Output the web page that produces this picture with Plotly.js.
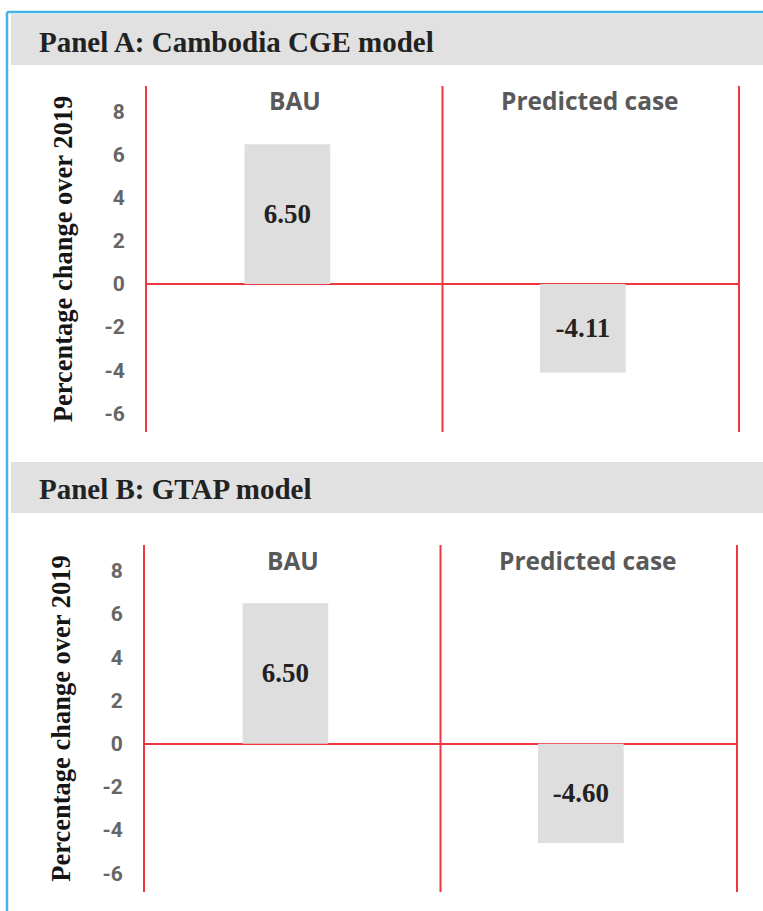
<!DOCTYPE html>
<html>
<head>
<meta charset="utf-8">
<script src="https://cdn.plot.ly/plotly-3.0.1.min.js"></script>
<style>
  html, body { margin: 0; padding: 0; background: #ffffff; }
  #chart { width: 763px; height: 911px; }
</style>
</head>
<body>
<div id="chart"></div>
<script>
// ---- data ----
const categories = ['BAU', 'Predicted case'];
const panelAValues = [6.50, -4.11];
const panelBValues = [6.50, -4.60];
const panelTitles = ['Panel A: Cambodia CGE model', 'Panel B: GTAP model'];
const yAxisTitle = 'Percentage change over 2019';
const yTickVals = [-6, -4, -2, 0, 2, 4, 6, 8];

// ---- styling ----
const W = 763, H = 911;
const RED = '#f0363e';
const BAR = '#dedede';
const BAND = '#e1e1e1';
const BLUE = '#47b2e6';
const serif = 'Liberation Serif, Times New Roman, serif';
const sans = 'Open Sans, Roboto, Arial, sans-serif';
const tickSans = 'Roboto, Open Sans, Arial, sans-serif';

function px(x) { return x / W; }
function py(y) { return 1 - y / H; }

function barTrace(values, xa, ya) {
  return {
    type: 'bar',
    x: categories,
    y: values,
    xaxis: xa,
    yaxis: ya,
    width: 0.29,
    offset: -0.17,
    marker: { color: BAR, line: { width: 0 } },
    text: values.map(v => v.toFixed(2)),
    textposition: 'inside',
    insidetextanchor: 'middle',
    textangle: 0,
    constraintext: 'none',
    textfont: { family: serif, size: 27, color: '#222222', weight: 'bold' },
    hoverinfo: 'skip'
  };
}

function xAxis(domain, anchor) {
  return {
    domain: domain,
    anchor: anchor,
    type: 'category',
    categoryorder: 'array',
    categoryarray: categories,
    range: [-0.5, 1.5],
    showticklabels: false,
    showline: false,
    showgrid: false,
    zeroline: false,
    ticks: '',
    fixedrange: true
  };
}

function yAxis(domain, anchor) {
  return {
    domain: domain,
    anchor: anchor,
    range: [-6.87, 9.2],
    tickvals: yTickVals,
    ticktext: yTickVals.map(String),
    showgrid: false,
    zeroline: true,
    zerolinecolor: RED,
    zerolinewidth: 2,
    showline: true,
    linecolor: RED,
    linewidth: 2,
    mirror: true,
    ticks: '',
    ticklabelstandoff: 16,
    tickfont: { family: tickSans, size: 21, color: '#666666', weight: 'bold' },
    title: {
      text: yAxisTitle,
      font: { family: serif, size: 26.5, color: '#151515', weight: 'bold' },
      standoff: 24
    },
    automargin: false,
    fixedrange: true
  };
}

const data = [
  barTrace(panelAValues, 'x', 'y'),
  barTrace(panelBValues, 'x2', 'y2')
];

const shapes = [
  // blue frame
  { type: 'line', xref: 'paper', yref: 'paper', x0: px(7), x1: px(763), y0: py(12), y1: py(12), line: { color: BLUE, width: 2.5 } },
  { type: 'line', xref: 'paper', yref: 'paper', x0: px(7), x1: px(7), y0: py(12), y1: py(911), line: { color: BLUE, width: 2.5 } },
  // header bands
  { type: 'rect', xref: 'paper', yref: 'paper', x0: px(11), x1: px(763), y0: py(65), y1: py(14), fillcolor: BAND, line: { width: 0 }, layer: 'below' },
  { type: 'rect', xref: 'paper', yref: 'paper', x0: px(11), x1: px(763), y0: py(513), y1: py(462), fillcolor: BAND, line: { width: 0 }, layer: 'below' },
  // middle separators between categories
  { type: 'line', xref: 'x', yref: 'y domain', x0: 0.5, x1: 0.5, y0: 0, y1: 1, line: { color: RED, width: 2 } },
  { type: 'line', xref: 'x2', yref: 'y2 domain', x0: 0.5, x1: 0.5, y0: 0, y1: 1, line: { color: RED, width: 2 } }
];

const annotations = [
  { xref: 'paper', yref: 'paper', x: px(37), y: py(42), xanchor: 'left', yanchor: 'middle', showarrow: false,
    text: panelTitles[0], font: { family: serif, size: 29, color: '#222222', weight: 'bold' } },
  { xref: 'paper', yref: 'paper', x: px(37), y: py(489), xanchor: 'left', yanchor: 'middle', showarrow: false,
    text: panelTitles[1], font: { family: serif, size: 29, color: '#222222', weight: 'bold' } }
];

// category labels at the top of each plot area
[['x', 'y'], ['x2', 'y2']].forEach(([xa, ya]) => {
  categories.forEach(c => {
    annotations.push({
      xref: xa, yref: ya + ' domain', x: c, y: 1 - 15 / 346,
      xanchor: 'center', yanchor: 'middle', showarrow: false,
      text: c, font: { family: sans, size: 24.5, color: '#595959', weight: 'bold' }
    });
  });
});

const layout = {
  width: W,
  height: H,
  margin: { l: 0, r: 0, t: 0, b: 0, pad: 0 },
  paper_bgcolor: '#ffffff',
  plot_bgcolor: 'rgba(0,0,0,0)',
  showlegend: false,
  xaxis: xAxis([px(147), px(738)], 'y'),
  yaxis: yAxis([py(432), py(86)], 'x'),
  xaxis2: xAxis([px(145), px(736)], 'y2'),
  yaxis2: yAxis([py(892), py(545)], 'x2'),
  shapes: shapes,
  annotations: annotations
};

Plotly.newPlot('chart', data, layout, { displayModeBar: false, staticPlot: true });
</script>
</body>
</html>
